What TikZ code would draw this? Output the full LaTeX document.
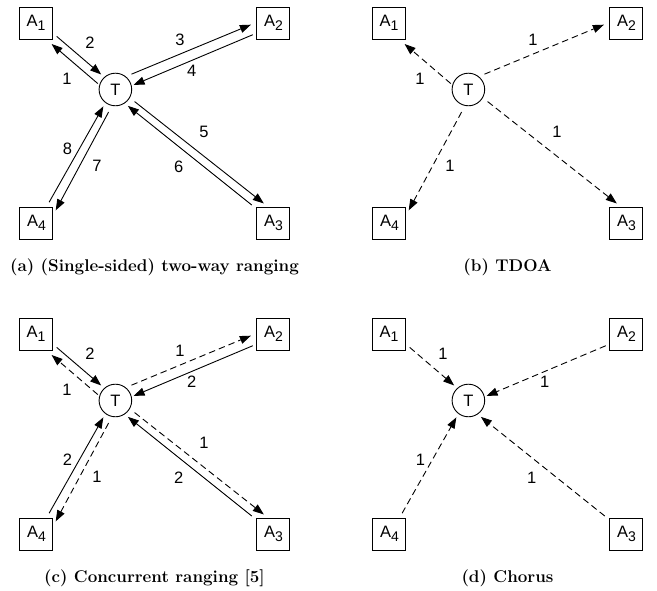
\documentclass[tikz,border=0pt]{standalone}
\usepackage{fontspec}
\setsansfont{Liberation Sans}
\usepackage{tikz}
\usetikzlibrary{positioning, arrows.meta}

\newcommand{\lowidx}[1]{\raisebox{-4pt}{\fontsize{14}{16}\selectfont #1}}

\tikzset{
  anchorbox/.style={draw, line width=0.9pt, minimum width=33pt, minimum height=32pt, inner sep=0pt},
  tag/.style={draw, circle, line width=0.9pt, minimum size=32.6pt, inner sep=0pt},
  sig/.style={-{Triangle[length=11pt,width=8pt]}, line width=0.9pt},
  pulse/.style={sig, dash pattern=on 6.5pt off 4pt},
  num/.style={inner sep=0pt},
  caption/.style={font=\rmfamily\bfseries\fontsize{17}{20}\selectfont, anchor=base}
}

\begin{document}
\begin{tikzpicture}[x=1pt, y=1pt, on grid, font=\sffamily\fontsize{16.5}{19}\selectfont]
  \useasboundingbox (0,0) rectangle (657,591);

  % (a) two-way ranging
  \node[tag] (ta) at (115.4,501.5) {T};
  \node[anchorbox, above left=66.5pt and 79.4pt of ta] (a1a) {A\lowidx{1}};
  \node[anchorbox, above right=66.5pt and 158pt of ta] (a2a) {A\lowidx{2}};
  \node[anchorbox, below right=133.5pt and 158pt of ta] (a3a) {A\lowidx{3}};
  \node[anchorbox, below left=133.5pt and 79pt of ta] (a4a) {A\lowidx{4}};
  \draw[sig, shorten <=2pt, shorten >=7pt] (ta.164) -- (a1a.-58);
  \draw[sig, shorten <=5pt, shorten >=4pt] (a1a.-31) -- (ta.132);
  \draw[sig, shorten <=6pt, shorten >=6pt] (ta.51) -- (a2a.178);
  \draw[sig, shorten <=4pt, shorten >=2pt] (a2a.-149) -- (ta.13);
  \draw[sig, shorten <=6pt, shorten >=5pt] (ta.-30) -- (a3a.109);
  \draw[sig, shorten <=6pt, shorten >=4pt] (a3a.140) -- (ta.-56);
  \draw[sig, shorten <=7pt, shorten >=5pt] (ta.-102) -- (a4a.26);
  \draw[sig, shorten <=5pt, shorten >=4pt] (a4a.58) -- (ta.-127);
  \node[num, above left=10.5pt and 48.4pt of ta] (n1a) {1};
  \node[num, above left=46.8pt and 25.4pt of ta] (n2a) {2};
  \node[num, above right=49.8pt and 64.6pt of ta] (n3a) {3};
  \node[num, above right=18.5pt and 76.3pt of ta] (n4a) {4};
  \node[num, below right=42pt and 88.6pt of ta] (n5a) {5};
  \node[num, below right=77.5pt and 63.3pt of ta] (n6a) {6};
  \node[num, below left=76.5pt and 18.4pt of ta] (n7a) {7};
  \node[num, below left=59pt and 47.9pt of ta] (n8a) {8};
  \node[caption] (capa) at (154.5,319) {(a) (Single-sided) two-way ranging};

  % (b) TDOA
  \node[tag] (tb) at (468.4,501.5) {T};
  \node[anchorbox, above left=66.5pt and 79.4pt of tb] (a1b) {A\lowidx{1}};
  \node[anchorbox, above right=66.5pt and 158pt of tb] (a2b) {A\lowidx{2}};
  \node[anchorbox, below right=133.5pt and 158pt of tb] (a3b) {A\lowidx{3}};
  \node[anchorbox, below left=133.5pt and 79pt of tb] (a4b) {A\lowidx{4}};
  \draw[pulse, shorten <=2pt, shorten >=7pt] (tb.164) -- (a1b.-58);
  \draw[pulse, shorten <=6pt, shorten >=6pt] (tb.51) -- (a2b.178);
  \draw[pulse, shorten <=6pt, shorten >=5pt] (tb.-30) -- (a3b.109);
  \draw[pulse, shorten <=7pt, shorten >=5pt] (tb.-102) -- (a4b.26);
  \node[num, above left=10.5pt and 48.4pt of tb] (n1b) {1};
  \node[num, above right=49.8pt and 64.6pt of tb] (n2b) {1};
  \node[num, below right=42pt and 88.6pt of tb] (n3b) {1};
  \node[num, below left=76.5pt and 18.4pt of tb] (n4b) {1};
  \node[caption] (capb) at (507.5,319) {(b) TDOA};

  % (c) concurrent ranging
  \node[tag] (tc) at (115.4,190.5) {T};
  \node[anchorbox, above left=66.5pt and 79.4pt of tc] (a1c) {A\lowidx{1}};
  \node[anchorbox, above right=66.5pt and 158pt of tc] (a2c) {A\lowidx{2}};
  \node[anchorbox, below right=133.5pt and 158pt of tc] (a3c) {A\lowidx{3}};
  \node[anchorbox, below left=133.5pt and 79pt of tc] (a4c) {A\lowidx{4}};
  \draw[pulse, shorten <=2pt, shorten >=7pt] (tc.164) -- (a1c.-58);
  \draw[sig, shorten <=5pt, shorten >=4pt] (a1c.-31) -- (tc.132);
  \draw[pulse, shorten <=6pt, shorten >=6pt] (tc.51) -- (a2c.178);
  \draw[sig, shorten <=4pt, shorten >=2pt] (a2c.-149) -- (tc.13);
  \draw[pulse, shorten <=6pt, shorten >=5pt] (tc.-30) -- (a3c.109);
  \draw[sig, shorten <=6pt, shorten >=4pt] (a3c.140) -- (tc.-56);
  \draw[pulse, shorten <=7pt, shorten >=5pt] (tc.-102) -- (a4c.26);
  \draw[sig, shorten <=5pt, shorten >=4pt] (a4c.58) -- (tc.-127);
  \node[num, above left=10.5pt and 48.4pt of tc] (n1c) {1};
  \node[num, above left=46.8pt and 25.4pt of tc] (n2c) {2};
  \node[num, above right=49.8pt and 64.6pt of tc] (n3c) {1};
  \node[num, above right=18.5pt and 76.3pt of tc] (n4c) {2};
  \node[num, below right=42pt and 88.6pt of tc] (n5c) {1};
  \node[num, below right=77.5pt and 63.3pt of tc] (n6c) {2};
  \node[num, below left=76.5pt and 18.4pt of tc] (n7c) {1};
  \node[num, below left=59pt and 47.9pt of tc] (n8c) {2};
  \node[caption] (capc) at (154.5,8) {(c) Concurrent ranging [5]};

  % (d) Chorus
  \node[tag] (td) at (468.4,190.5) {T};
  \node[anchorbox, above left=66.5pt and 79.4pt of td] (a1d) {A\lowidx{1}};
  \node[anchorbox, above right=66.5pt and 158pt of td] (a2d) {A\lowidx{2}};
  \node[anchorbox, below right=133.5pt and 158pt of td] (a3d) {A\lowidx{3}};
  \node[anchorbox, below left=133.5pt and 79pt of td] (a4d) {A\lowidx{4}};
  \draw[pulse, shorten <=5pt, shorten >=4pt] (a1d.-31) -- (td.132);
  \draw[pulse, shorten <=4pt, shorten >=2pt] (a2d.-149) -- (td.13);
  \draw[pulse, shorten <=6pt, shorten >=4pt] (a3d.140) -- (td.-56);
  \draw[pulse, shorten <=5pt, shorten >=4pt] (a4d.58) -- (td.-127);
  \node[num, above left=46.8pt and 25.4pt of td] (n1d) {1};
  \node[num, above right=18.5pt and 76.3pt of td] (n2d) {1};
  \node[num, below right=77.5pt and 63.3pt of td] (n3d) {1};
  \node[num, below left=59pt and 47.9pt of td] (n4d) {1};
  \node[caption] (capd) at (507.5,8) {(d) Chorus};
\end{tikzpicture}
\end{document}
